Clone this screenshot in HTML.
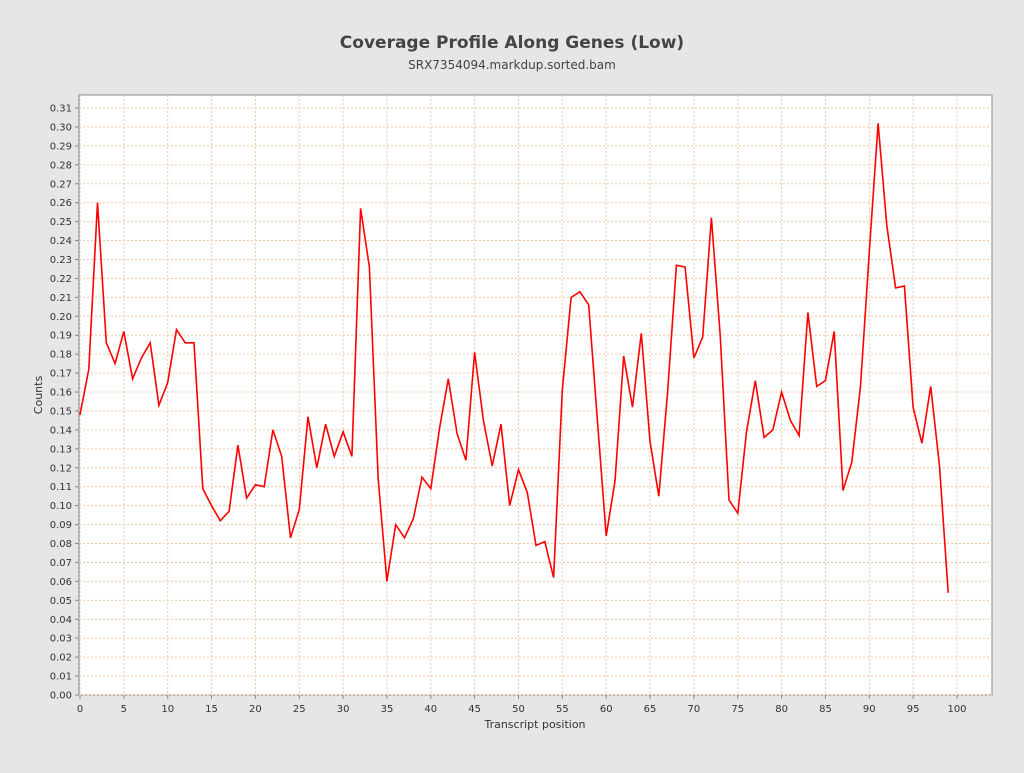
<!DOCTYPE html>
<html><head><meta charset="utf-8"><style>
body{margin:0;background:#e6e6e6;font-family:"Liberation Sans","DejaVu Sans",sans-serif;}
svg text{font-family:"DejaVu Sans","Liberation Sans",sans-serif;}
</style></head><body>
<svg id="chart" width="1024" height="768" xmlns="http://www.w3.org/2000/svg">
<rect width="1024" height="768" fill="#e6e6e6"/>
<text x="512" y="48" text-anchor="middle" font-size="17" font-weight="bold" fill="#444">Coverage Profile Along Genes (Low)</text>
<text x="512" y="69" text-anchor="middle" font-size="12" fill="#444">SRX7354094.markdup.sorted.bam</text>
<rect x="79" y="95" width="913" height="600" fill="#fff" stroke="#888"/>
<g id="grid"></g><g id="axes"></g>
<path id="line" fill="none" stroke="#ff0000" stroke-width="1.6"/>
<text x="42" y="395" text-anchor="middle" font-size="11" fill="#333" transform="rotate(-90 42 395)">Counts</text>
<text x="535" y="728" text-anchor="middle" font-size="11" fill="#333">Transcript position</text>
</svg>
<script>
const positions=[...Array(100).keys()];
const counts=[0.148,0.172,0.260,0.186,0.175,0.192,0.167,0.178,0.186,0.153,0.165,0.193,0.186,0.186,0.109,0.100,0.092,0.097,0.132,0.104,0.111,0.110,0.140,0.126,0.083,0.098,0.147,0.120,0.143,0.126,0.139,0.126,0.257,0.226,0.114,0.060,0.090,0.083,0.093,0.115,0.109,0.141,0.167,0.138,0.124,0.181,0.145,0.121,0.143,0.100,0.119,0.107,0.079,0.081,0.062,0.161,0.210,0.213,0.206,0.145,0.084,0.113,0.179,0.152,0.191,0.134,0.105,0.160,0.227,0.226,0.178,0.189,0.252,0.190,0.103,0.096,0.139,0.166,0.136,0.140,0.160,0.145,0.137,0.202,0.163,0.166,0.192,0.108,0.123,0.163,0.234,0.302,0.248,0.215,0.216,0.152,0.133,0.163,0.121,0.054];
const xTicks=[0,5,10,15,20,25,30,35,40,45,50,55,60,65,70,75,80,85,90,95,100];
const yTicks=[...Array(32).keys()].map(i=>i/100);
const NS="http://www.w3.org/2000/svg";
const X=v=>80+v*8.77, Y=v=>695-v*1893.5;
const grid=document.getElementById('grid'), axes=document.getElementById('axes');
function mk(tag,attrs,parent){const e=document.createElementNS(NS,tag);for(const k in attrs)e.setAttribute(k,attrs[k]);parent.appendChild(e);return e;}
yTicks.forEach(v=>{
 const g=mk('line',{x1:79,x2:992,y1:Y(v),y2:Y(v),stroke:'#f2c9a6','stroke-dasharray':'2,2','stroke-width':1},grid);
 
 
 mk('line',{x1:75,x2:79,y1:Y(v),y2:Y(v),stroke:'#888'},axes);
 const t=mk('text',{x:72,y:Y(v)+3.5,'text-anchor':'end','font-size':10,fill:'#333'},axes);
 t.textContent=v.toFixed(2);
 
 
});
xTicks.forEach(v=>{
 const g=mk('line',{x1:X(v),x2:X(v),y1:95,y2:695,stroke:'#f2c9a6','stroke-dasharray':'2,2','stroke-width':1},grid);
 
 
 mk('line',{x1:X(v),x2:X(v),y1:695,y2:699,stroke:'#888'},axes);
 const t=mk('text',{x:X(v),y:712,'text-anchor':'middle','font-size':10,fill:'#333'},axes);
 t.textContent=v;
 
 
});
document.getElementById('line').setAttribute('d',counts.map((c,i)=>(i?'L':'M')+X(positions[i]).toFixed(1)+','+Y(c).toFixed(1)).join(''));
</script>
</body></html>
